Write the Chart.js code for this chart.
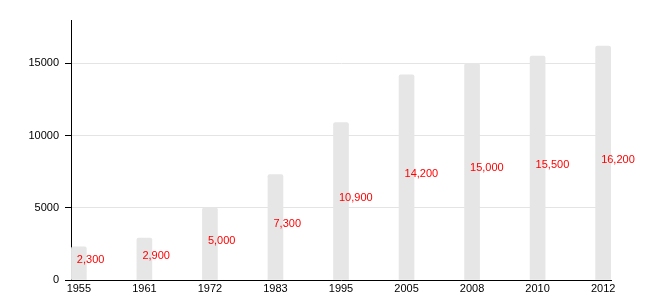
<!DOCTYPE html>
<html>
<head>
<meta charset="utf-8">
<script src="https://cdn.jsdelivr.net/npm/chart.js@4/dist/chart.umd.min.js"></script>
<style>
  html, body { margin: 0; padding: 0; background: #fff; }
  #wrap { width: 650px; height: 300px; }
</style>
</head>
<body>
<div id="wrap"><canvas id="myChart" width="650" height="300"></canvas></div>
<script>
// population by census year
var years = ["1955", "1961", "1972", "1983", "1995", "2005", "2008", "2010", "2012"];
var population = [2300, 2900, 5000, 7300, 10900, 14200, 15000, 15500, 16200];
var valueLabels = ["2,300", "2,900", "5,000", "7,300", "10,900", "14,200", "15,000", "15,500", "16,200"];
var yTicks = [0, 5000, 10000, 15000];

var points = [];
for (var i = 0; i < years.length; i++) {
    points.push({x: i, y: population[i]});
}

// red numbers next to each bar, about half way up
var redLabels = {
    id: 'redLabels',
    afterDatasetsDraw: function(chart) {
        var ctx = chart.ctx;
        var meta = chart.getDatasetMeta(0);
        ctx.save();
        ctx.font = '11px "Liberation Sans", Arial, sans-serif';
        ctx.fillStyle = '#ff0000';
        ctx.textAlign = 'left';
        ctx.textBaseline = 'middle';
        meta.data.forEach(function(bar, k) {
            var mid = (bar.y + bar.base) / 2 - 3;
            ctx.fillText(valueLabels[k], bar.x - 2, mid);
        });
        ctx.restore();
    }
};

var ctx = document.getElementById("myChart").getContext("2d");
var myChart = new Chart(ctx, {
    type: 'bar',
    data: {
        datasets: [{
            data: points,
            backgroundColor: '#e6e6e6',
            borderWidth: 0,
            borderRadius: {topLeft: 2, topRight: 2},
            barThickness: 15
        }]
    },
    options: {
        responsive: false,
        animation: false,
        layout: { padding: { left: 0, right: 39, top: 20, bottom: 0 } },
        plugins: { legend: { display: false }, tooltip: { enabled: false } },
        scales: {
            x: {
                type: 'linear',
                offset: false,
                min: -0.12,
                max: 8.12,
                grid: { display: false, drawTicks: false },
                border: { display: true, color: '#000', width: 1 },
                afterBuildTicks: function(scale) {
                    scale.ticks = years.map(function(_, k) { return {value: k}; });
                },
                afterFit: function(scale) { scale.height = 20; },
                ticks: {
                    autoSkip: false,
                    maxRotation: 0,
                    padding: 2,
                    color: '#000',
                    font: { family: '"Liberation Sans", Arial, sans-serif', size: 11 },
                    callback: function(v) { return years[v] !== undefined ? years[v] : ''; }
                }
            },
            y: {
                min: 0,
                max: 18000,
                afterBuildTicks: function(scale) {
                    scale.ticks = yTicks.map(function(v) { return {value: v}; });
                },
                afterFit: function(scale) { scale.width = 71; },
                grid: {
                    color: '#e4e4e4',
                    tickColor: '#000',
                    tickLength: 6,
                    drawTicks: true
                },
                border: { display: true, color: '#000', width: 1 },
                ticks: {
                    padding: 6,
                    color: '#000',
                    font: { family: '"Liberation Sans", Arial, sans-serif', size: 11 },
                    callback: function(v) { return String(v); }
                }
            }
        }
    },
    plugins: [redLabels]
});
</script>
</body>
</html>
